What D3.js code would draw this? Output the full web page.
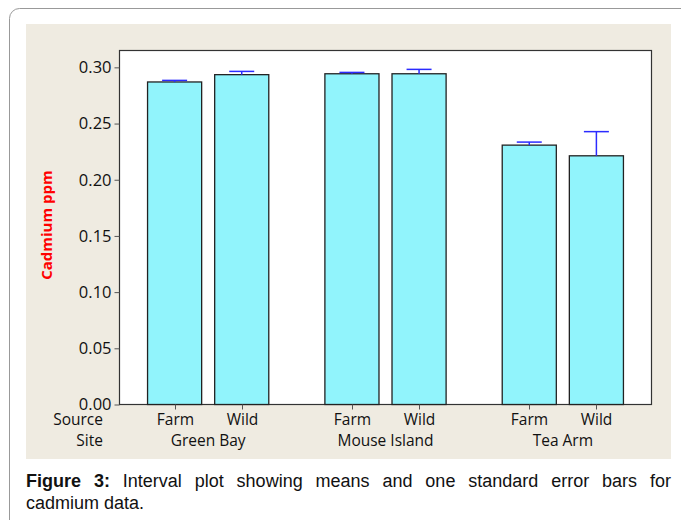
<!DOCTYPE html>
<html>
<head>
<meta charset="utf-8">
<script src="https://cdn.jsdelivr.net/npm/d3@7"></script>
<style>
  body { margin: 0; background: #fff; }
  svg { display: block; }
</style>
</head>
<body>
<svg id="chart" width="681" height="520"></svg>
<script>
// data
const sites = ["Green Bay", "Mouse Island", "Tea Arm"];
const sources = ["Farm", "Wild"];
const means = [0.287, 0.2935, 0.2943, 0.2943, 0.2308, 0.2213];
const stdErrors = [0.0014, 0.0029, 0.0012, 0.0039, 0.0027, 0.0215];
const yTicks = [0.00, 0.05, 0.10, 0.15, 0.20, 0.25, 0.30];

const rows = [];
sites.forEach((site, i) => {
    sources.forEach((src, j) => {
        const k = i * sources.length + j;
        rows.push({site: site, source: src, mean: means[k], se: stdErrors[k]});
    });
});

const svg = d3.select("#chart");

// outer rounded frame
svg.append("rect")
    .attr("x", 9.5).attr("y", 8.5)
    .attr("width", 720).attr("height", 560)
    .attr("rx", 10)
    .attr("fill", "#fff")
    .attr("stroke", "#999")
    .attr("stroke-width", 1);

// beige panel
svg.append("rect")
    .attr("x", 26).attr("y", 24)
    .attr("width", 645).attr("height", 435)
    .attr("fill", "#efebe1");

const plot = {left: 119.5, right: 651.5, top: 50.5, bottom: 404.5};

svg.append("rect")
    .attr("x", plot.left).attr("y", plot.top)
    .attr("width", plot.right - plot.left).attr("height", plot.bottom - plot.top)
    .attr("fill", "#fff")
    .attr("stroke", "#333")
    .attr("stroke-width", 1.2);

const y = d3.scaleLinear()
    .domain([0, 0.315])
    .range([plot.bottom, plot.top]);

const xSite = d3.scaleBand()
    .domain(sites)
    .range([plot.left, plot.right])
    .padding(0);

const xSource = d3.scaleBand()
    .domain(sources)
    .range([0, xSite.bandwidth()])
    .paddingInner(0.194)
    .paddingOuter(0.418);

const fontAxis = "'Open Sans', 'DejaVu Sans', sans-serif";

// y axis
const yAxis = svg.append("g")
    .attr("transform", `translate(${plot.left},0)`)
    .call(d3.axisLeft(y).tickValues(yTicks).tickFormat(d3.format(".2f")).tickSize(5).tickPadding(3));
yAxis.select(".domain").remove();
yAxis.selectAll("line").attr("stroke", "#555");
yAxis.selectAll("text")
    .attr("fill", "#111")
    .style("font-family", fontAxis)
    .style("font-size", "16.5px");

// bars
const barX = d => xSite(d.site) + xSource(d.source);

svg.append("g").selectAll("rect")
    .data(rows)
    .enter().append("rect")
    .attr("x", barX)
    .attr("y", d => y(d.mean))
    .attr("width", xSource.bandwidth())
    .attr("height", d => y(0) - y(d.mean))
    .attr("fill", "#91f4fc")
    .attr("stroke", "#222")
    .attr("stroke-width", 1.3);

// one standard error bars (upward only)
const capW = 25;
const err = svg.append("g")
    .attr("stroke", "#2b2bff")
    .attr("stroke-width", 1.5);
rows.forEach(d => {
    const cx = barX(d) + xSource.bandwidth() / 2;
    err.append("line")
        .attr("x1", cx).attr("x2", cx)
        .attr("y1", y(d.mean)).attr("y2", y(d.mean + d.se));
    err.append("line")
        .attr("x1", cx - capW / 2).attr("x2", cx + capW / 2)
        .attr("y1", y(d.mean + d.se)).attr("y2", y(d.mean + d.se));
});

// x ticks and labels
const xg = svg.append("g");
rows.forEach(d => {
    const cx = Math.round(barX(d) + xSource.bandwidth() / 2) + 0.5;
    xg.append("line")
        .attr("x1", cx).attr("x2", cx)
        .attr("y1", plot.bottom).attr("y2", plot.bottom + 5)
        .attr("stroke", "#555");
    xg.append("text")
        .attr("x", cx).attr("y", 425)
        .attr("text-anchor", "middle")
        .style("font-family", fontAxis)
        .style("font-size", "15.5px")
        .attr("fill", "#111")
        .text(d.source);
});
sites.forEach(site => {
    xg.append("text")
        .attr("x", xSite(site) + xSite.bandwidth() / 2)
        .attr("y", 446)
        .attr("text-anchor", "middle")
        .style("font-family", fontAxis)
        .style("font-size", "15.5px")
        .attr("fill", "#111")
        .text(site);
});
["Source", "Site"].forEach((t, i) => {
    xg.append("text")
        .attr("x", 103).attr("y", 425 + i * 21)
        .attr("text-anchor", "end")
        .style("font-family", fontAxis)
        .style("font-size", "15.5px")
        .attr("fill", "#111")
        .text(t);
});

// y axis title
svg.append("text")
    .attr("transform", "translate(52,225) rotate(-90)")
    .attr("text-anchor", "middle")
    .style("font-family", fontAxis)
    .style("font-size", "15px")
    .style("font-weight", "bold")
    .attr("fill", "#ff0000")
    .text("Cadmium ppm");

// caption: first line justified to the panel width
const capWidth = 645;
const cap = svg.append("g")
    .attr("transform", "translate(26,0)")
    .style("font-family", "'Liberation Sans', Arial, sans-serif")
    .style("font-size", "18px")
    .attr("fill", "#111");

const line1 = cap.append("text").attr("x", 0).attr("y", 487);
line1.append("tspan").style("font-weight", "bold").text("Figure 3:");
line1.append("tspan").text(" Interval plot showing means and one standard error bars for");

const natural = line1.node().getComputedTextLength();
const gaps = 11;
line1.style("word-spacing", `${(capWidth - natural) / gaps}px`);

cap.append("text").attr("x", 0).attr("y", 509)
    .text("cadmium data.");
</script>
</body>
</html>
